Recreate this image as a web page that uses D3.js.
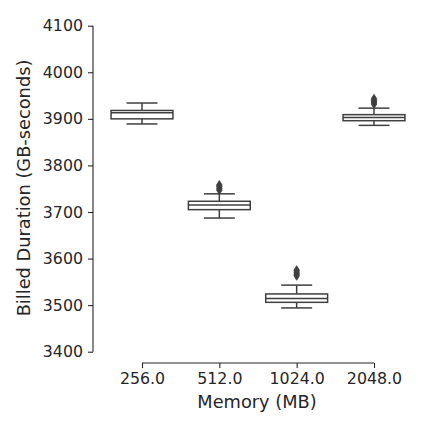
<!DOCTYPE html>
<html><head><meta charset="utf-8">
<script src="https://cdn.jsdelivr.net/npm/d3@7"></script>
<style>body{margin:0;background:#fff}svg{display:block}text{font-family:"DejaVu Sans",sans-serif;fill:#262626}</style>
</head><body><svg id="c" width="432" height="432"></svg>
<script>
const categories = ["256.0","512.0","1024.0","2048.0"];
const whiskerLow = [3889, 3687, 3494, 3886];
const q1 = [3900, 3705, 3506, 3896];
const median = [3913, 3715, 3514, 3903];
const q3 = [3918, 3723, 3524, 3909];
const whiskerHigh = [3934, 3739, 3543, 3923];
const outliers = [[], [3747, 3751, 3755, 3758], [3563, 3567, 3571, 3575], [3932, 3936, 3939, 3943]];
const yTicks = [3400,3500,3600,3700,3800,3900,4000,4100];

const svg = d3.select("#c");
const x = d3.scalePoint().domain(categories).range([142, 374]);
const step = x.step();
const y = d3.scaleLinear().domain([3400, 4100]).range([351.7, 25.7]);
const stroke = "#3f3f3f";

const yAxis = svg.append("g").attr("transform","translate(93,0)")
  .call(d3.axisLeft(y).tickValues(yTicks).tickFormat(d3.format("d")).tickSize(5).tickPadding(5));
const xAxis = svg.append("g").attr("transform","translate(0,363)")
  .call(d3.axisBottom(x).tickSize(5).tickPadding(5));
[yAxis, xAxis].forEach(g => {
  g.select(".domain").attr("stroke","#262626").attr("stroke-width",1.1);
  g.selectAll(".tick line").attr("stroke","#262626").attr("stroke-width",1.1);
  g.selectAll("text").attr("font-size","15.8px").attr("fill","#262626").attr("font-family","DejaVu Sans");
});
yAxis.select(".domain").attr("d", `M0,${y(3400)}V${y(4100)}`);
xAxis.select(".domain").attr("d", `M${x(categories[0])},0H${x(categories[3])}`);

svg.append("text").attr("transform","translate(30,188) rotate(-90)").attr("text-anchor","middle")
  .attr("font-size","17.8px").text("Billed Duration (GB-seconds)");
svg.append("text").attr("x",257).attr("y",408).attr("text-anchor","middle")
  .attr("font-size","17.8px").text("Memory (MB)");

const bw = step*0.8;
const g = svg.append("g");
categories.forEach((c,i) => {
  const cx = x(c);
  const cap = bw/2*0.5;
  g.append("line").attr("x1",cx).attr("x2",cx).attr("y1",y(q3[i])).attr("y2",y(whiskerHigh[i])).attr("stroke",stroke).attr("stroke-width",1.5);
  g.append("line").attr("x1",cx).attr("x2",cx).attr("y1",y(q1[i])).attr("y2",y(whiskerLow[i])).attr("stroke",stroke).attr("stroke-width",1.5);
  g.append("line").attr("x1",cx-cap).attr("x2",cx+cap).attr("y1",y(whiskerHigh[i])).attr("y2",y(whiskerHigh[i])).attr("stroke",stroke).attr("stroke-width",1.5);
  g.append("line").attr("x1",cx-cap).attr("x2",cx+cap).attr("y1",y(whiskerLow[i])).attr("y2",y(whiskerLow[i])).attr("stroke",stroke).attr("stroke-width",1.5);
  g.append("rect").attr("x",cx-bw/2).attr("y",y(q3[i])).attr("width",bw).attr("height",y(q1[i])-y(q3[i]))
    .attr("fill","#ffffff").attr("stroke",stroke).attr("stroke-width",1.5);
  g.append("line").attr("x1",cx-bw/2).attr("x2",cx+bw/2).attr("y1",y(median[i])).attr("y2",y(median[i])).attr("stroke",stroke).attr("stroke-width",1.5);
  outliers[i].forEach(v => {
    const py = y(v);
    g.append("path").attr("d",`M${cx},${py-4.5}L${cx+2.8},${py}L${cx},${py+4.5}L${cx-2.8},${py}Z`)
      .attr("fill",stroke).attr("stroke",stroke).attr("stroke-width",0.8);
  });
});
</script></body></html>
